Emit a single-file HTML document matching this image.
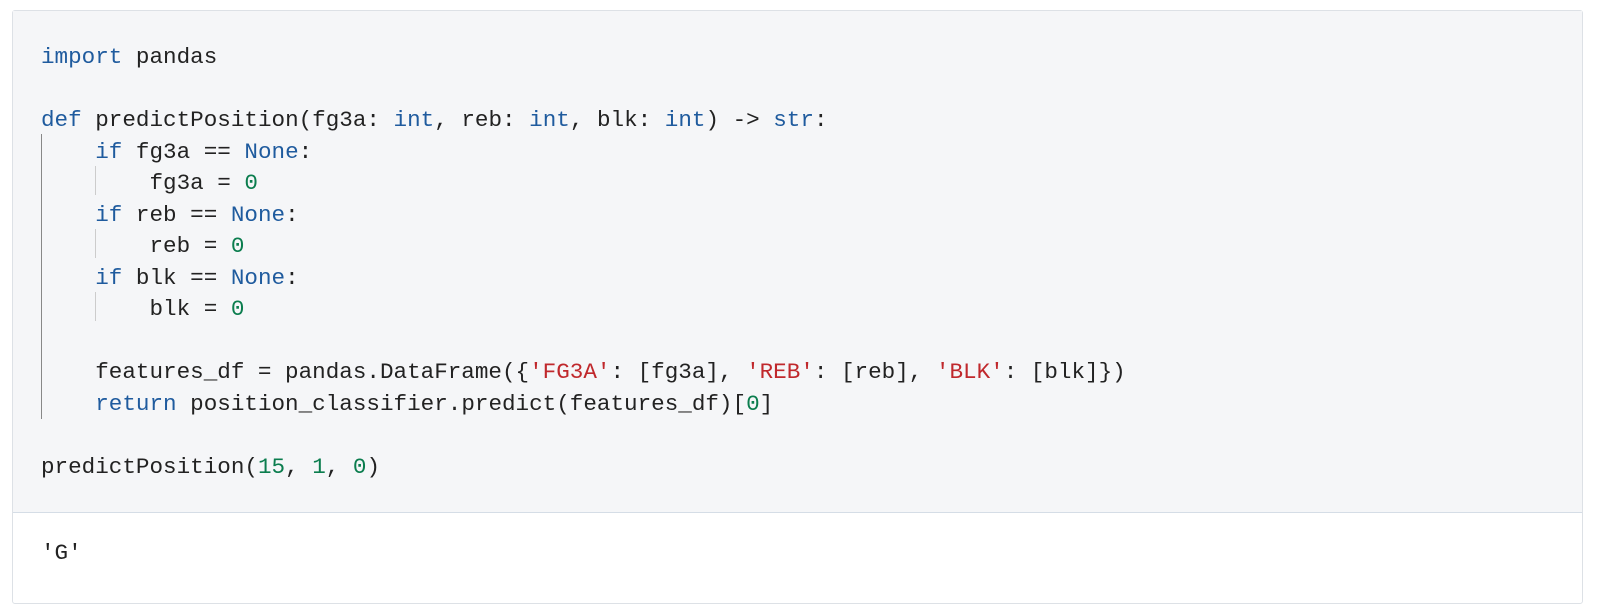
<!DOCTYPE html>
<html><head><style>
body{margin:0;width:1600px;height:614px;background:#fff;position:relative;overflow:hidden}
.box{position:absolute;left:12px;top:10px;width:1569px;height:592px;border:1px solid #dde1e6;border-radius:3px;background:#fff}
.code{position:absolute;left:0;top:0;width:1569px;height:501px;background:#f5f6f8;border-bottom:1px solid #d5dde6}
pre{margin:0;position:absolute;left:28px;top:31px;font-family:"Liberation Mono",monospace;font-size:22.6px;line-height:31.5px;color:#222}
.k{color:#1f5b9e}.n{color:#0b7d4e}.s{color:#c0282c}
.g1{position:absolute;left:28px;top:123px;width:1px;height:285px;background:#888}
.g2{position:absolute;width:1px;background:#ccc;left:82px;height:29px}
.out{position:absolute;left:28px;top:527px;font-family:"Liberation Mono",monospace;font-size:22.6px;color:#222;margin:0}
</style></head><body>
<div class="box">
<div class="code">
<div class="g1"></div>
<div class="g2" style="top:155px"></div>
<div class="g2" style="top:218px"></div>
<div class="g2" style="top:281px"></div>
<pre><span class="k">import</span> pandas

<span class="k">def</span> predictPosition(fg3a: <span class="k">int</span>, reb: <span class="k">int</span>, blk: <span class="k">int</span>) -&gt; <span class="k">str</span>:
    <span class="k">if</span> fg3a == <span class="k">None</span>:
        fg3a = <span class="n">0</span>
    <span class="k">if</span> reb == <span class="k">None</span>:
        reb = <span class="n">0</span>
    <span class="k">if</span> blk == <span class="k">None</span>:
        blk = <span class="n">0</span>

    features_df = pandas.DataFrame({<span class="s">'FG3A'</span>: [fg3a], <span class="s">'REB'</span>: [reb], <span class="s">'BLK'</span>: [blk]})
    <span class="k">return</span> position_classifier.predict(features_df)[<span class="n">0</span>]

predictPosition(<span class="n">15</span>, <span class="n">1</span>, <span class="n">0</span>)</pre>
</div>
<pre class="out">'G'</pre>
</div>
</body></html>
